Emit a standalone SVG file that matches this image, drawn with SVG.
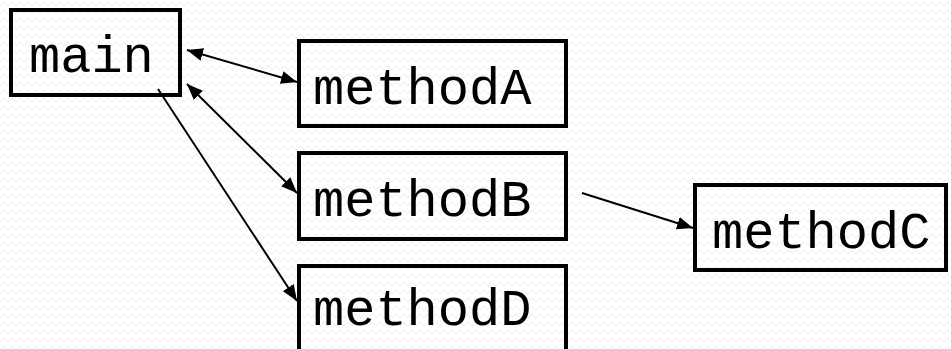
<svg xmlns="http://www.w3.org/2000/svg" width="951" height="349" viewBox="0 0 951 349">
<defs>
<pattern id="zz" width="8" height="8" patternUnits="userSpaceOnUse">
<polyline points="0,6 4,2 8,6" fill="none" stroke="#ebebeb" stroke-width="1"/>
</pattern>
<marker id="ah" viewBox="0 0 16 13" refX="16" refY="6.5" markerWidth="16" markerHeight="13" markerUnits="userSpaceOnUse" orient="auto-start-reverse">
<path d="M0,0 L16,6.5 L0,13 Z" fill="#000"/>
</marker>
</defs>
<style>
.box{fill:none;stroke:#000;stroke-width:4}
.lbl{font-family:"Liberation Mono","Courier New",monospace;font-size:52px;fill:#000}
.ln{stroke:#000;stroke-width:2;fill:none}
</style>
<rect width="951" height="349" fill="#fff"/>
<rect width="951" height="349" fill="url(#zz)"/>
<g id="main"><rect class="box" x="11" y="10" width="169" height="85"/><text class="lbl" x="29" y="72">main</text></g>
<g id="methodA"><rect class="box" x="299" y="41" width="267" height="85"/><text class="lbl" x="313" y="104">methodA</text></g>
<g id="methodB"><rect class="box" x="299" y="153" width="267" height="86"/><text class="lbl" x="313" y="216">methodB</text></g>
<g id="methodD"><rect class="box" x="299" y="266" width="267" height="90"/><text class="lbl" x="313" y="325">methodD</text></g>
<g id="methodC"><rect class="box" x="695" y="185" width="251" height="85"/><text class="lbl" x="712" y="248">methodC</text></g>
<g id="connectors">
<line class="ln" x1="187" y1="50" x2="297" y2="82" marker-start="url(#ah)" marker-end="url(#ah)"/>
<line class="ln" x1="187" y1="84" x2="297" y2="193" marker-start="url(#ah)" marker-end="url(#ah)"/>
<line class="ln" x1="158" y1="89" x2="297" y2="301" marker-end="url(#ah)"/>
<line class="ln" x1="582" y1="193" x2="693" y2="228" marker-end="url(#ah)"/>
</g>
</svg>
